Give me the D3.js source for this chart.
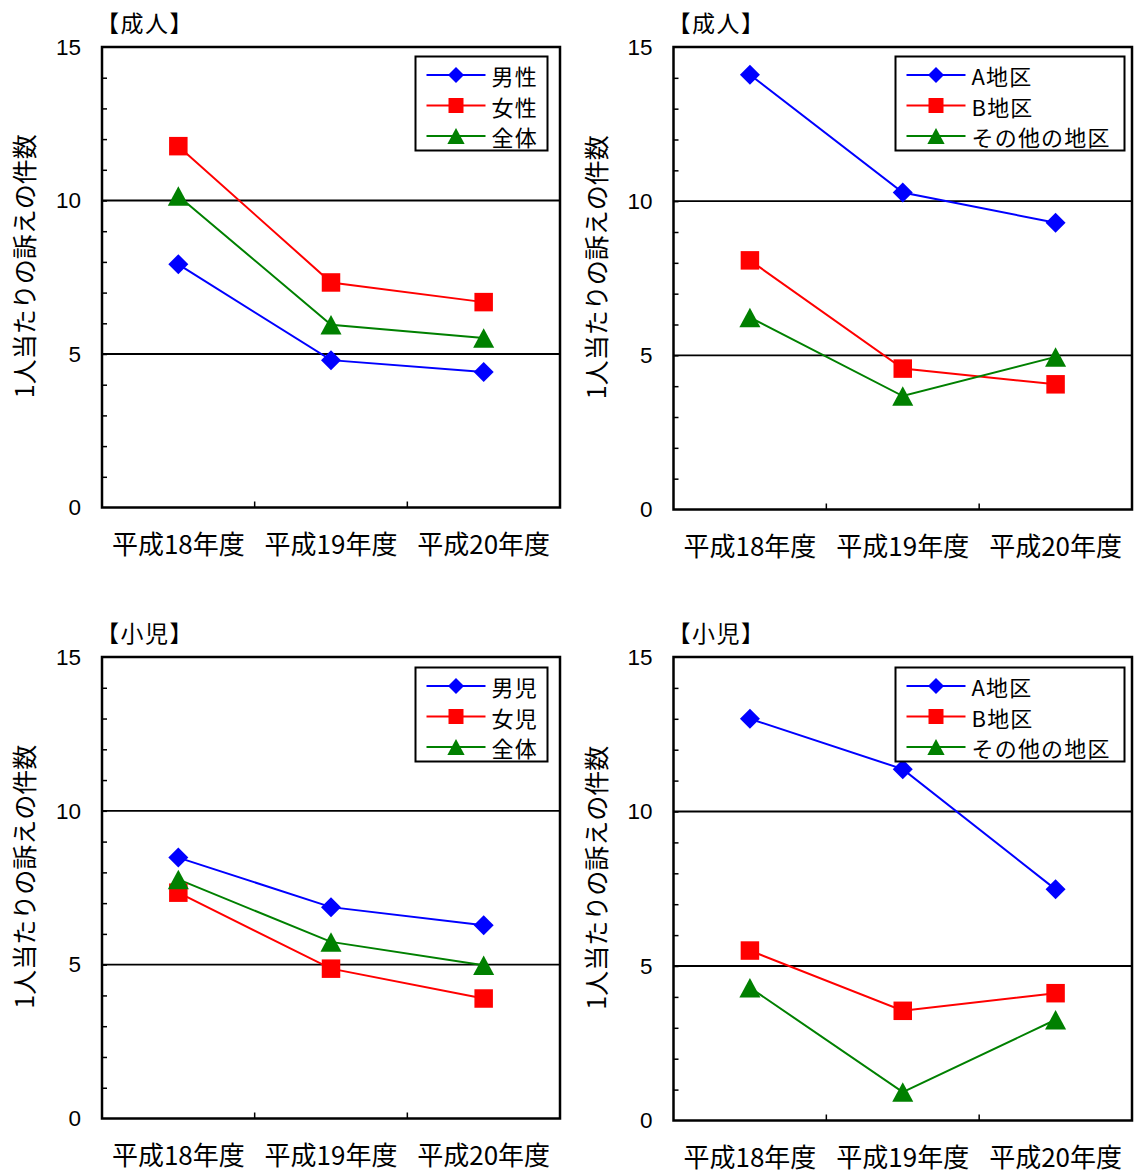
<!DOCTYPE html>
<html><head><meta charset="utf-8">
<script src="https://cdn.jsdelivr.net/npm/d3@7"></script>
<style>
html,body{margin:0;padding:0;background:#fff;}
svg{display:block;}
</style>
</head><body>
<svg id="chart" width="1135" height="1173"></svg>
<script>
// ---- data ----
const categories = ["平成18年度", "平成19年度", "平成20年度"];
const yTickValues = [0, 5, 10, 15];
const gridValues = [5, 10];
const yAxisTitle = "1人当たりの訴えの件数";

const adultTitle = "【成人】";
const childTitle = "【小児】";

const adultSexNames = ["男性", "女性", "全体"];
const adultMale = [7.92, 4.80, 4.41];
const adultFemale = [11.77, 7.33, 6.69];
const adultTotal = [10.15, 5.95, 5.52];

const areaNames = ["A地区", "B地区", "その他の地区"];
const adultAreaA = [14.10, 10.28, 9.30];
const adultAreaB = [8.08, 4.57, 4.06];
const adultAreaOther = [6.23, 3.68, 4.95];

const childSexNames = ["男児", "女児", "全体"];
const childBoy = [8.48, 6.87, 6.28];
const childGirl = [7.34, 4.87, 3.90];
const childTotal = [7.77, 5.74, 4.98];

const childAreaA = [13.00, 11.37, 7.48];
const childAreaB = [5.50, 3.55, 4.12];
const childAreaOther = [4.30, 0.92, 3.26];

const seriesColors = ["#0000FF", "#FF0000", "#008000"];
const seriesShapes = ["diamond", "square", "triangle"];

// ---- layout ----
const panels = [
  {title: adultTitle, names: adultSexNames, series: [adultMale, adultFemale, adultTotal],
   x0: 102, x1: 560, y0: 47, y1: 507.5, legend: {x: 415.5, y: 56.5, w: 132, h: 94}},
  {title: adultTitle, names: areaNames, series: [adultAreaA, adultAreaB, adultAreaOther],
   x0: 673.5, x1: 1132, y0: 47, y1: 509.5, legend: {x: 895.5, y: 56.5, w: 229, h: 94}},
  {title: childTitle, names: childSexNames, series: [childBoy, childGirl, childTotal],
   x0: 102, x1: 560, y0: 657, y1: 1118.5, legend: {x: 415.5, y: 667.5, w: 132, h: 94}},
  {title: childTitle, names: areaNames, series: [childAreaA, childAreaB, childAreaOther],
   x0: 673.5, x1: 1132, y0: 657, y1: 1120.5, legend: {x: 895.5, y: 667.5, w: 229, h: 94}}
];

const svg = d3.select("#chart");
const jpFont = "'Noto Sans CJK JP', 'Noto Sans', sans-serif";
const numFont = "'Liberation Sans', Arial, sans-serif";

function markerPath(shape, s) {
  const p = d3.path();
  if (shape === "diamond") {
    p.moveTo(0, -s / 2); p.lineTo(s / 2, 0); p.lineTo(0, s / 2); p.lineTo(-s / 2, 0); p.closePath();
  } else if (shape === "square") {
    const h = s / 2;
    p.rect(-h, -h, s, s);
  } else {
    const w = s * 1.08, h = s;
    p.moveTo(0, -h / 2); p.lineTo(w / 2, h / 2); p.lineTo(-w / 2, h / 2); p.closePath();
  }
  return p.toString();
}
const markerSize = {diamond: 20, square: 18.5, triangle: 19.5};
const legendMarkerSize = {diamond: 16, square: 15, triangle: 16};

panels.forEach(pn => {
  const g = svg.append("g");
  const x = d3.scaleBand().domain(categories).range([pn.x0, pn.x1]);
  const y = d3.scaleLinear().domain([0, 15]).range([pn.y1, pn.y0]);

  // title
  g.append("text").attr("x", pn.x0 - 6).attr("y", pn.y0 - 15)
    .attr("font-family", jpFont).attr("font-size", 23).attr("letter-spacing", 1.5)
    .attr("fill", "#000").text(pn.title);

  // grid lines
  g.selectAll(".grid").data(gridValues).enter().append("line")
    .attr("x1", pn.x0).attr("x2", pn.x1)
    .attr("y1", d => y(d)).attr("y2", d => y(d))
    .attr("stroke", "#000").attr("stroke-width", 1.8);

  // y tick labels
  const yAxis = d3.axisLeft(y).tickValues(yTickValues).tickSize(0).tickPadding(21);
  const ya = g.append("g").attr("transform", `translate(${pn.x0},0)`).call(yAxis);
  ya.select(".domain").remove();
  ya.selectAll("text").attr("font-family", numFont).attr("font-size", 22.5).attr("fill", "#000");

  // minor ticks inward
  const yMinor = d3.axisRight(y).tickValues(d3.range(1, 15)).tickSize(5).tickFormat("");
  const ym = g.append("g").attr("transform", `translate(${pn.x0},0)`).call(yMinor);
  ym.select(".domain").remove();
  ym.selectAll("line").attr("stroke", "#000").attr("stroke-width", 1.5);

  // x labels
  const xAxis = d3.axisBottom(x).tickSize(0).tickPadding(28);
  const xa = g.append("g").attr("transform", `translate(0,${pn.y1})`).call(xAxis);
  xa.select(".domain").remove();
  xa.selectAll("text").attr("font-family", jpFont).attr("font-size", 26).attr("fill", "#000");

  // x boundary ticks (pointing up)
  g.selectAll(".xt").data(categories.slice(1)).enter().append("line")
    .attr("x1", d => x(d)).attr("x2", d => x(d))
    .attr("y1", pn.y1).attr("y2", pn.y1 - 6)
    .attr("stroke", "#000").attr("stroke-width", 1.5);

  // frame
  g.append("rect").attr("x", pn.x0).attr("y", pn.y0)
    .attr("width", pn.x1 - pn.x0).attr("height", pn.y1 - pn.y0)
    .attr("fill", "none").attr("stroke", "#000").attr("stroke-width", 2.5);

  // y axis title
  const cy = (pn.y0 + pn.y1) / 2 - 11;
  g.append("text").attr("transform", `translate(${pn.x0 - 79},${cy}) rotate(-90)`)
    .attr("text-anchor", "middle").attr("dominant-baseline", "central")
    .attr("font-family", jpFont).attr("font-size", 25).attr("fill", "#000")
    .text(yAxisTitle);

  // series
  const line = d3.line().x((d, i) => x(categories[i]) + x.bandwidth() / 2).y(d => y(d));
  pn.series.forEach((vals, si) => {
    g.append("path").datum(vals).attr("d", line)
      .attr("fill", "none").attr("stroke", seriesColors[si]).attr("stroke-width", 2);
  });
  pn.series.forEach((vals, si) => {
    g.selectAll(null).data(vals).enter().append("path")
      .attr("transform", (d, i) => `translate(${x(categories[i]) + x.bandwidth() / 2},${y(d)})`)
      .attr("d", markerPath(seriesShapes[si], markerSize[seriesShapes[si]]))
      .attr("fill", seriesColors[si]);
  });

  // legend
  const L = pn.legend;
  const lg = g.append("g");
  lg.append("rect").attr("x", L.x).attr("y", L.y).attr("width", L.w).attr("height", L.h)
    .attr("fill", "#fff").attr("stroke", "#000").attr("stroke-width", 2);
  pn.names.forEach((nm, si) => {
    const ry = L.y + 18.5 + si * 30.5;
    const lx0 = L.x + 11, lx1 = L.x + 70;
    lg.append("line").attr("x1", lx0).attr("x2", lx1).attr("y1", ry).attr("y2", ry)
      .attr("stroke", seriesColors[si]).attr("stroke-width", 2);
    lg.append("path").attr("transform", `translate(${(lx0 + lx1) / 2},${ry})`)
      .attr("d", markerPath(seriesShapes[si], legendMarkerSize[seriesShapes[si]]))
      .attr("fill", seriesColors[si]);
    lg.append("text").attr("x", L.x + 76).attr("y", ry)
      .attr("dominant-baseline", "central").attr("letter-spacing", 1.2)
      .attr("font-family", jpFont).attr("font-size", 22).attr("fill", "#000").text(nm);
  });
});
</script>
</body></html>
